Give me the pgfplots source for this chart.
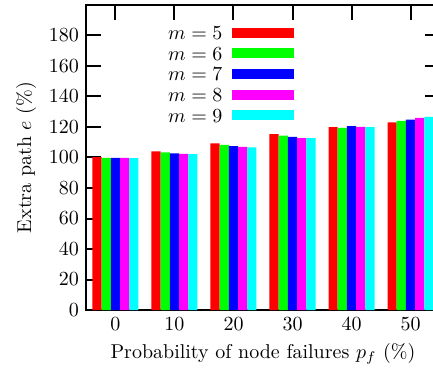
\documentclass[border=0pt]{standalone}
\usepackage{pgfplots}
\pgfplotsset{compat=1.18}
\definecolor{cR}{rgb}{1,0,0}
\definecolor{cG}{rgb}{0,1,0}
\definecolor{cB}{rgb}{0,0,1}
\definecolor{cM}{rgb}{1,0,1}
\definecolor{cC}{rgb}{0,1,1}
\begin{document}
\begin{tikzpicture}
\begin{axis}[
  name=ax,
  scale only axis,
  width=177pt, height=152.5pt,
  ybar=0pt, bar width=4.6pt,
  xmin=-0.5, xmax=5.5,
  ymin=0, ymax=200,
  xtick={0,1,2,3,4,5},
  xticklabels={0,10,20,30,40,50},
  ytick={0,20,40,60,80,100,120,140,160,180},
  tick align=inside,
  major tick length=7.75pt,
  every tick/.style={line width=1pt, black},
  axis line style={line width=1pt},
  minor tick num=0,
  xlabel={Probability of node failures $p_f$ (\%)},
  ylabel={Extra path $e$ (\%)},
  xlabel style={yshift=0.5pt},
  ylabel style={yshift=-0.5pt},
  legend plot pos=right,
  legend cell align=right,
  legend image code/.code={\fill[#1] (0pt,-1.5pt) rectangle (31pt,3.5pt);},
  legend style={draw=none, fill=none, at={(0.59,0.934)}, anchor=north east,
    inner sep=0pt, column sep=5pt, row sep=1.35pt,
    nodes={inner sep=0pt, text height=7pt, text depth=2pt}},
]
\addplot[fill=cR, draw=none] coordinates {(0,100.2) (1,104.0) (2,109.2) (3,115.4) (4,119.9) (5,123.1)};
\addplot[fill=cG, draw=none] coordinates {(0,99.7) (1,103.3) (2,108.2) (3,114.3) (4,119.5) (5,124.0)};
\addplot[fill=cB, draw=none] coordinates {(0,99.8) (1,102.7) (2,107.5) (3,113.6) (4,120.6) (5,124.9)};
\addplot[fill=cM, draw=none] coordinates {(0,99.7) (1,102.3) (2,107.0) (3,112.7) (4,120.1) (5,126.0)};
\addplot[fill=cC, draw=none] coordinates {(0,99.6) (1,102.2) (2,106.6) (3,112.7) (4,119.9) (5,126.6)};
\legend{$m=5$,$m=6$,$m=7$,$m=8$,$m=9$}
\end{axis}
\pgfresetboundingbox
\path ([shift={(-43pt,-29.5pt)}]ax.south west) rectangle ([shift={(-3.5pt,2.5pt)}]ax.north east);
\end{tikzpicture}
\end{document}
